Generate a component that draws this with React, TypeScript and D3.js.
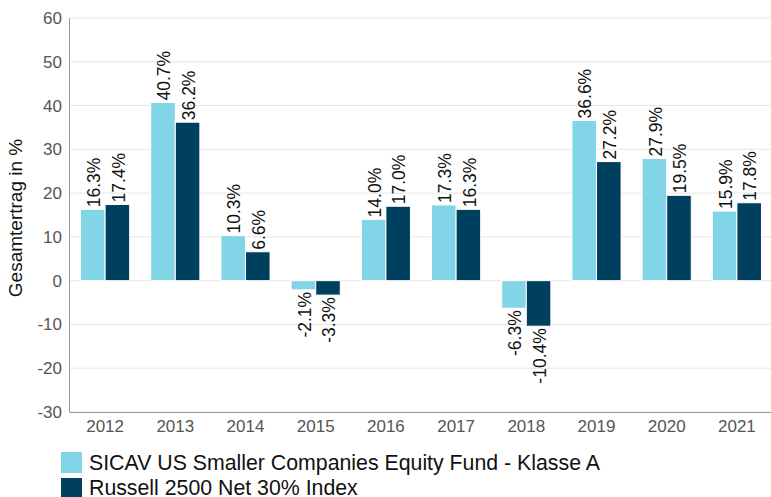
import React from "react";
import * as d3 from "d3";

const years = ["2012","2013","2014","2015","2016","2017","2018","2019","2020","2021"];
const fundValues = [16.3, 40.7, 10.3, -2.1, 14.0, 17.3, -6.3, 36.6, 27.9, 15.9];
const indexValues = [17.4, 36.2, 6.6, -3.3, 17.0, 16.3, -10.4, 27.2, 19.5, 17.8];
const yTicks = [-30, -20, -10, 0, 10, 20, 30, 40, 50, 60];
const seriesNames = ["SICAV US Smaller Companies Equity Fund - Klasse A", "Russell 2500 Net 30% Index"];
const colors = ["#82D5E7", "#00405F"];

const W = 771, H = 497;
const margin = { left: 70, right: 0, top: 18, bottom: 85 };
const FONT = "Liberation Sans, Arial, sans-serif";

export default function App() {
  const x = d3.scaleBand<string>().domain(years).range([margin.left, W + 1]).paddingInner(0.3).paddingOuter(0.15);
  const y = d3.scaleLinear().domain([-30, 60]).range([H - margin.bottom, margin.top]);
  const series = [fundValues, indexValues];
  const bw = x.bandwidth() / 2;
  return (
    <svg width={W} height={H} style={{ position: "absolute", left: 0, top: 0, fontFamily: FONT }}>
      {yTicks.map((t) => (
        <g key={t}>
          <line x1={margin.left} x2={W} y1={y(t)} y2={y(t)} stroke="#e6e6e6" strokeWidth={1} />
          <text x={margin.left - 8} y={y(t)} dy="0.35em" textAnchor="end" fontSize={17} fill="#555">{t}</text>
        </g>
      ))}
      <line x1={margin.left - 0.5} x2={margin.left - 0.5} y1={margin.top} y2={y(-30)} stroke="#999" />
      <line x1={margin.left - 0.5} x2={W} y1={y(-30) + 0.5} y2={y(-30) + 0.5} stroke="#999" />
      {years.map((yr, i) => (
        <g key={yr}>
          {series.map((vals, s) => {
            const v = vals[i];
            const bx = (x(yr) as number) + s * bw;
            const y0 = y(Math.max(0, v));
            const h = Math.abs(y(v) - y(0));
            const cx = bx + bw / 2;
            const ly = v >= 0 ? y(v) - 2 : y(v) + 2;
            return (
              <g key={s}>
                <rect x={bx} y={y0} width={bw} height={h} fill={colors[s]} stroke="#fff" strokeWidth={1} />
                <text transform={`translate(${cx + 1},${ly}) rotate(-90)`} dy="0.35em" textAnchor={v >= 0 ? "start" : "end"} fontSize={17.5} fill="#111">
                  {v.toFixed(1)}%
                </text>
              </g>
            );
          })}
          <text x={(x(yr) as number) + x.bandwidth() / 2} y={432} textAnchor="middle" fontSize={17} fill="#555">{yr}</text>
        </g>
      ))}
      <text transform={`translate(15,218) rotate(-90)`} dy="0.35em" textAnchor="middle" fontSize={19} fill="#111">Gesamtertrag in %</text>
      {seriesNames.map((n, i) => (
        <g key={n}>
          <rect x={61} y={452 + i * 26} width={21} height={21} fill={colors[i]} />
          <text x={89} y={470 + i * 25} fontSize={21.3} fill="#111">{n}</text>
        </g>
      ))}
    </svg>
  );
}
